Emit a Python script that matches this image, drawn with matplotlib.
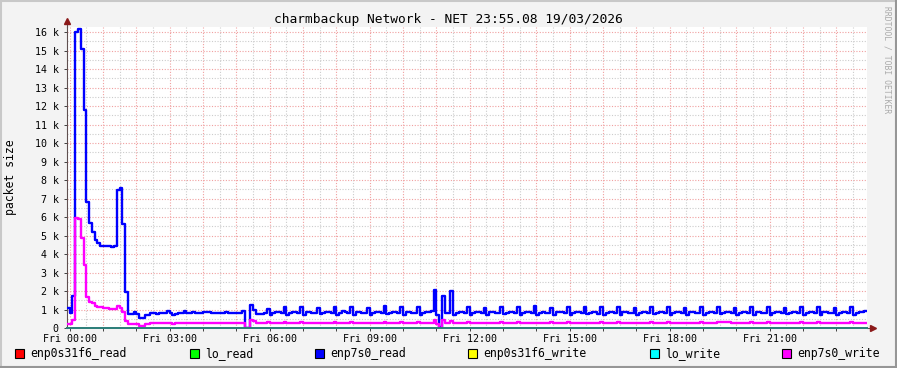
import numpy as np
import matplotlib
matplotlib.use("Agg")
import matplotlib.pyplot as plt
from matplotlib.patches import Rectangle
from matplotlib.lines import Line2D
from matplotlib.ticker import FuncFormatter, MultipleLocator

plt.rcParams['font.family'] = ['DejaVu Sans Mono']

W, H = 897, 368

# one sample every 5 minutes; first sample covers Thu 23:55 -> Fri 00:00
# (values in packets / 1000)
step_hours = (np.arange(288) - 1) / 12.0
t_start, t_end = -0.0811, 23.919   # 23:55:08 -> 23:55:08

enp7s0_read = [
    1.10, 0.80, 1.75, 16.00, 16.20, 15.10, 11.80, 6.80, 5.67, 5.20, 4.76, 4.58,
    4.46, 4.43, 4.43, 4.42, 4.40, 4.43, 7.47, 7.56, 5.63, 1.97, 0.76, 0.76,
    0.88, 0.74, 0.52, 0.52, 0.72, 0.72, 0.83, 0.83, 0.76, 0.83, 0.83, 0.83,
    0.90, 0.80, 0.70, 0.76, 0.83, 0.83, 0.90, 0.80, 0.80, 0.85, 0.80, 0.80,
    0.80, 0.85, 0.85, 0.85, 0.80, 0.80, 0.80, 0.80, 0.80, 0.85, 0.80, 0.80,
    0.80, 0.80, 0.80, 0.90, 0.00, 0.00, 1.25, 0.95, 0.78, 0.78, 0.78, 0.80,
    1.05, 0.72, 0.83, 0.85, 0.85, 0.80, 1.12, 0.72, 0.83, 0.85, 0.85, 0.82,
    1.15, 0.72, 0.85, 0.85, 0.83, 0.80, 1.10, 0.74, 0.83, 0.85, 0.85, 0.80,
    1.12, 0.72, 0.83, 0.90, 0.85, 0.80, 1.15, 0.72, 0.85, 0.85, 0.83, 0.80,
    1.10, 0.72, 0.83, 0.85, 0.85, 0.82, 1.18, 0.74, 0.83, 0.85, 0.85, 0.80,
    1.12, 0.72, 0.85, 0.85, 0.83, 0.80, 1.15, 0.72, 0.83, 0.85, 0.85, 0.90,
    2.06, 0.70, 0.05, 1.75, 0.80, 0.80, 2.00, 0.72, 0.83, 0.85, 0.85, 0.80,
    1.12, 0.72, 0.83, 0.85, 0.85, 0.80, 1.10, 0.72, 0.85, 0.85, 0.83, 0.82,
    1.15, 0.74, 0.83, 0.85, 0.85, 0.80, 1.12, 0.72, 0.83, 0.85, 0.85, 0.80,
    1.18, 0.72, 0.83, 0.85, 0.83, 0.80, 1.10, 0.72, 0.85, 0.85, 0.85, 0.82,
    1.15, 0.72, 0.83, 0.85, 0.85, 0.80, 1.12, 0.74, 0.83, 0.85, 0.85, 0.78,
    1.12, 0.72, 0.83, 0.85, 0.85, 0.80, 1.15, 0.72, 0.85, 0.85, 0.83, 0.80,
    1.10, 0.72, 0.83, 0.85, 0.85, 0.80, 1.15, 0.74, 0.83, 0.85, 0.85, 0.82,
    1.12, 0.72, 0.83, 0.85, 0.85, 0.80, 1.10, 0.72, 0.85, 0.85, 0.83, 0.80,
    1.15, 0.72, 0.83, 0.85, 0.85, 0.80, 1.12, 0.74, 0.83, 0.85, 0.85, 0.80,
    1.10, 0.72, 0.83, 0.85, 0.85, 0.82, 1.15, 0.72, 0.85, 0.85, 0.83, 0.80,
    1.12, 0.72, 0.83, 0.85, 0.85, 0.80, 1.10, 0.74, 0.83, 0.85, 0.85, 0.80,
    1.15, 0.72, 0.83, 0.85, 0.85, 0.80, 1.12, 0.72, 0.85, 0.85, 0.83, 0.82,
    1.10, 0.72, 0.83, 0.85, 0.85, 0.80, 1.12, 0.72, 0.83, 0.85, 0.85, 0.90,
]

enp7s0_write = [
    0.22, 0.22, 0.43, 5.94, 5.88, 4.86, 3.41, 1.70, 1.43, 1.34, 1.19, 1.12,
    1.12, 1.07, 1.07, 1.05, 1.03, 1.03, 1.21, 1.10, 0.85, 0.38, 0.20, 0.20,
    0.22, 0.22, 0.12, 0.12, 0.20, 0.22, 0.25, 0.25, 0.25, 0.27, 0.27, 0.25,
    0.27, 0.25, 0.23, 0.25, 0.25, 0.27, 0.27, 0.25, 0.25, 0.25, 0.25, 0.25,
    0.25, 0.27, 0.25, 0.25, 0.25, 0.25, 0.25, 0.25, 0.25, 0.27, 0.25, 0.25,
    0.25, 0.25, 0.25, 0.27, 0.00, 0.00, 0.42, 0.38, 0.28, 0.27, 0.27, 0.25,
    0.30, 0.25, 0.25, 0.25, 0.25, 0.25, 0.30, 0.25, 0.25, 0.25, 0.25, 0.25,
    0.30, 0.25, 0.25, 0.25, 0.25, 0.25, 0.28, 0.25, 0.25, 0.25, 0.25, 0.25,
    0.30, 0.25, 0.25, 0.25, 0.25, 0.25, 0.30, 0.25, 0.25, 0.25, 0.25, 0.25,
    0.28, 0.25, 0.25, 0.25, 0.25, 0.25, 0.30, 0.25, 0.25, 0.25, 0.25, 0.25,
    0.30, 0.25, 0.25, 0.25, 0.25, 0.25, 0.30, 0.25, 0.25, 0.25, 0.25, 0.27,
    0.43, 0.20, 0.00, 0.42, 0.27, 0.25, 0.38, 0.27, 0.25, 0.25, 0.25, 0.25,
    0.30, 0.25, 0.25, 0.25, 0.25, 0.25, 0.28, 0.25, 0.25, 0.25, 0.25, 0.25,
    0.30, 0.25, 0.25, 0.25, 0.25, 0.25, 0.30, 0.25, 0.25, 0.25, 0.25, 0.25,
    0.28, 0.25, 0.25, 0.25, 0.25, 0.25, 0.30, 0.25, 0.25, 0.25, 0.25, 0.25,
    0.30, 0.25, 0.25, 0.25, 0.25, 0.25, 0.28, 0.25, 0.25, 0.25, 0.25, 0.25,
    0.30, 0.25, 0.25, 0.25, 0.25, 0.25, 0.30, 0.28, 0.25, 0.25, 0.25, 0.25,
    0.28, 0.25, 0.25, 0.25, 0.25, 0.25, 0.30, 0.25, 0.25, 0.25, 0.25, 0.25,
    0.30, 0.25, 0.25, 0.25, 0.25, 0.25, 0.28, 0.25, 0.25, 0.25, 0.25, 0.25,
    0.30, 0.25, 0.25, 0.25, 0.25, 0.25, 0.32, 0.30, 0.30, 0.30, 0.30, 0.28,
    0.28, 0.25, 0.25, 0.25, 0.25, 0.25, 0.30, 0.25, 0.25, 0.25, 0.25, 0.25,
    0.30, 0.25, 0.25, 0.25, 0.25, 0.25, 0.28, 0.25, 0.25, 0.25, 0.25, 0.25,
    0.30, 0.25, 0.25, 0.25, 0.25, 0.25, 0.30, 0.25, 0.25, 0.25, 0.25, 0.25,
    0.28, 0.25, 0.25, 0.25, 0.25, 0.25, 0.30, 0.25, 0.25, 0.25, 0.25, 0.25,
]

# idle interfaces, flat at zero all day
enp0s31f6_read = np.zeros(288)
lo_read = np.zeros(288)
enp0s31f6_write = np.zeros(288)
lo_write = np.zeros(288)

series = [
    ("enp0s31f6_read", enp0s31f6_read, "#ff0000"),
    ("lo_read", lo_read, "#00ff00"),
    ("enp7s0_read", enp7s0_read, "#0000ff"),
    ("enp0s31f6_write", enp0s31f6_write, "#ffff00"),
    ("lo_write", lo_write, "#00ffff"),
    ("enp7s0_write", enp7s0_write, "#ff00ff"),
]
legend_x = [15, 190, 315, 468, 650, 782]


def px(x, y):
    return x / W, 1 - y / H


fig = plt.figure(figsize=(W / 100, H / 100), dpi=100, facecolor="#f3f3f3")
ax = fig.add_axes([67 / W, 40 / H, 800 / W, 301.3 / H])
ax.set_facecolor("white")

x_ext = np.append(step_hours, step_hours[-1] + 1 / 12.0)
for name, vals, col in series:
    v = np.asarray(vals, dtype=float) * 1000
    y_ext = np.append(v, v[-1])
    idle = not v.any()
    ax.step(x_ext, y_ext, where="post", color=col,
            lw=0.7 if idle else 1.7, zorder=2 if idle else 3)

ax.set_xlim(t_start, t_end)
ax.set_ylim(0, 16300)

# grid: major red-ish every hour / 1k, minor grey every 30 min / 500
ax.xaxis.set_major_locator(MultipleLocator(1))
ax.xaxis.set_minor_locator(MultipleLocator(0.5))
ax.yaxis.set_major_locator(MultipleLocator(1000))
ax.yaxis.set_minor_locator(MultipleLocator(500))
ax.grid(which="major", color="#f0a0a0", lw=0.8, linestyle=(0, (1, 1.5)), zorder=1)
ax.grid(which="minor", color="#cccccc", lw=0.8, linestyle=(0, (1, 1.5)), zorder=0)
ax.set_axisbelow(True)


def xfmt(v, pos):
    h = int(round(v))
    if h % 3 == 0 and 0 <= h < 24:
        return "Fri %02d:00" % h
    return ""


def yfmt(v, pos):
    k = int(round(v / 1000))
    return "0" if k == 0 else "%d k" % k


ax.xaxis.set_major_formatter(FuncFormatter(xfmt))
ax.yaxis.set_major_formatter(FuncFormatter(yfmt))
ax.tick_params(which="major", length=2, width=0.7, color="#404040",
               labelsize=7.2, pad=2)
ax.tick_params(which="minor", length=0)
ax.tick_params(axis="y", pad=4)

for s in ["top", "right"]:
    ax.spines[s].set_visible(False)
ax.spines["left"].set_color("#605050")
ax.spines["left"].set_linewidth(0.8)
ax.spines["bottom"].set_color("#2a7d78")
ax.spines["bottom"].set_linewidth(1.4)
ax.spines["bottom"].set_zorder(4)

# axis arrows
arrow_col = "#8b1a1a"
ax.plot([0, 0], [1.0, 1.02], transform=ax.transAxes, color="#605050",
        lw=0.8, clip_on=False)
ax.plot([0], [1.02], marker="^", ms=4, color=arrow_col,
        transform=ax.transAxes, clip_on=False)
ax.plot([1.0, 1.007], [0, 0], transform=ax.transAxes, color="#605050",
        lw=0.8, clip_on=False)
ax.plot([1.007], [0], marker=">", ms=4, color=arrow_col,
        transform=ax.transAxes, clip_on=False)

# texts
fig.text(*px(448, 20), "charmbackup Network - NET 23:55.08 19/03/2026",
         ha="center", va="center", fontsize=9.3)
fig.text(*px(11, 177), "packet size", rotation=90, ha="center",
         va="center", fontsize=8.3)
fig.text(*px(887, 60), "RRDTOOL / TOBI OETIKER", rotation=270, ha="center",
         va="center", fontsize=5.8, color="#aaaaaa")

# legend
for (name, vals, col), lx in zip(series, legend_x):
    x0, y0 = px(lx, 358.3)
    fig.add_artist(Rectangle((x0, y0), 8.5 / W, 9 / H, facecolor=col,
                             edgecolor="black", lw=0.8,
                             transform=fig.transFigure))
    fig.text(*px(lx + 15, 354), name, ha="left", va="center", fontsize=8.3)

# frame shading
fig.add_artist(Line2D([0, 1], [1 - 1 / H, 1 - 1 / H], color="#c8c8c8", lw=1.5,
                      transform=fig.transFigure))
fig.add_artist(Line2D([1 / W, 1 / W], [0, 1], color="#c8c8c8", lw=1.5,
                      transform=fig.transFigure))
fig.add_artist(Line2D([0, 1], [1 / H, 1 / H], color="#969696", lw=1.5,
                      transform=fig.transFigure))
fig.add_artist(Line2D([1 - 1 / W, 1 - 1 / W], [0, 1], color="#969696", lw=1.5,
                      transform=fig.transFigure))

fig.savefig("out.png", dpi=100, facecolor=fig.get_facecolor())
